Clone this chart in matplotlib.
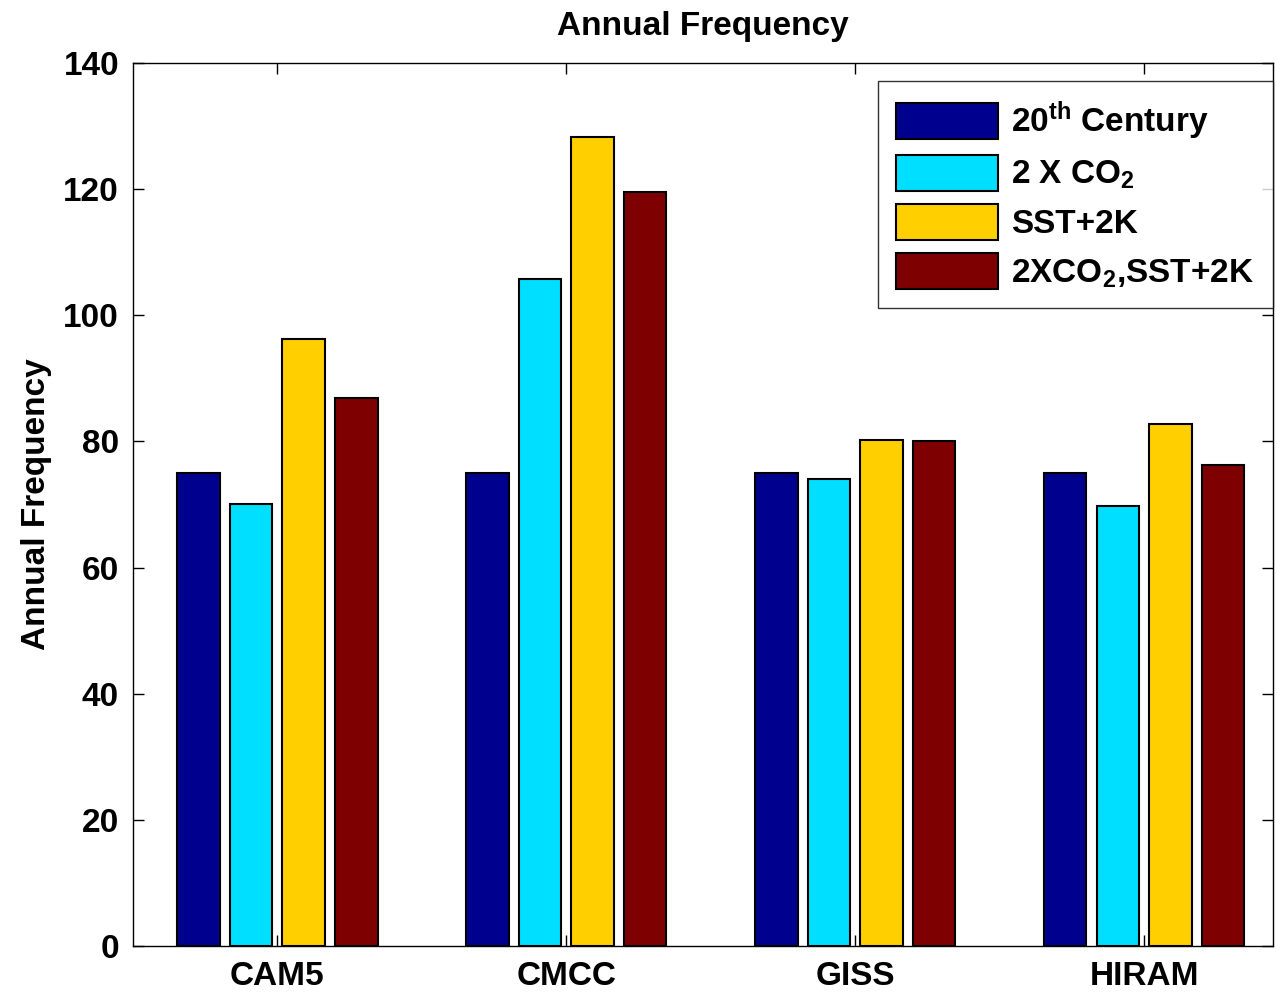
import matplotlib
matplotlib.use('Agg')
import matplotlib.pyplot as plt
import numpy as np

plt.rcParams['font.family'] = ['Liberation Sans', 'DejaVu Sans']
plt.rcParams['font.weight'] = 'bold'
plt.rcParams['axes.titleweight'] = 'bold'
plt.rcParams['axes.labelweight'] = 'bold'
plt.rcParams['mathtext.fontset'] = 'custom'
plt.rcParams['mathtext.rm'] = 'Liberation Sans:bold'
plt.rcParams['mathtext.bf'] = 'Liberation Sans:bold'
plt.rcParams['mathtext.default'] = 'bf'

models = ['CAM5', 'CMCC', 'GISS', 'HIRAM']
series_names = ['20$^{th}$ Century', '2 X CO$_2$', 'SST+2K', '2XCO$_2$,SST+2K']
century20 = [75.0, 75.0, 75.0, 75.0]
co2x2 = [70.0, 105.8, 74.1, 69.7]
sst2k = [96.3, 128.3, 80.2, 82.7]
co2x2_sst2k = [86.9, 119.6, 80.1, 76.3]
colors = ['#00008f', '#00dfff', '#ffcf00', '#7f0000']

FS = 24

fig = plt.figure(figsize=(12.76, 9.93), dpi=100)
ax = fig.add_axes([0.1042, 0.0473, 0.8934, 0.8893])

x = np.arange(1, len(models) + 1)
step = 0.182
width = 0.147
for i, vals in enumerate([century20, co2x2, sst2k, co2x2_sst2k]):
    ax.bar(x + (i - 1.5) * step, vals, width, color=colors[i], edgecolor='black',
           linewidth=1.5, label=series_names[i])

ax.set_xlim(0.5, 4.446)
ax.set_ylim(0, 140)
ax.set_yticks(np.arange(0, 141, 20))
ax.set_xticks(x)
ax.set_xticklabels(models)
ax.tick_params(direction='in', length=8, width=1, labelsize=FS, top=True, right=True)
ax.tick_params(axis='y', pad=10)
ax.tick_params(axis='x', pad=11)
for s in ax.spines.values():
    s.set_linewidth(1)
ax.set_ylabel('Annual Frequency', fontsize=FS, labelpad=8)
ax.set_title('Annual Frequency', fontsize=FS, pad=20)

leg = ax.legend(loc='upper right', bbox_to_anchor=(1.0, 1 - 18 / 883), fontsize=FS,
                frameon=True, fancybox=False, edgecolor='black', handlelength=3.06,
                handleheight=1.3, labelspacing=0.38, borderaxespad=0.0,
                handletextpad=0.4, borderpad=0.55)
leg.get_frame().set_linewidth(1)

fig.savefig('out.png', dpi=100)
